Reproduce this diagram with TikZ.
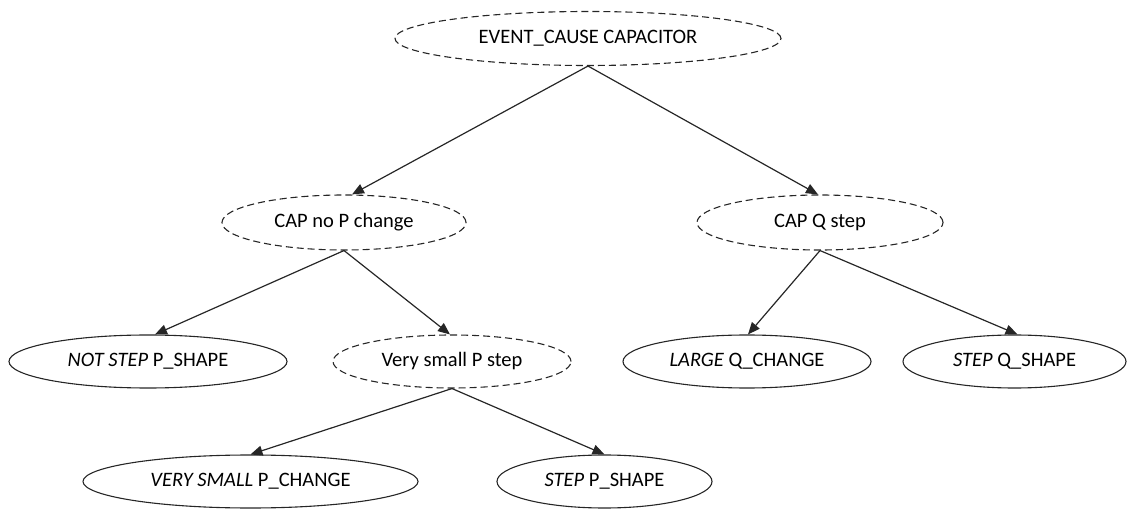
\documentclass[tikz,border=0pt]{standalone}
\usepackage{fontspec}
\setmainfont{Carlito}
\usetikzlibrary{shapes.geometric,arrows.meta}
\begin{document}
\begin{tikzpicture}[x=1pt,y=-1pt,
  box/.style={ellipse,draw=black!85,line width=1.1pt,inner sep=0pt,font=\fontsize{20.5}{23}\selectfont,text=black},
  dbox/.style={box,dash pattern=on 7pt off 4pt},
  link/.style={line width=1.2pt,draw=black!85,-{Triangle[length=12pt,width=10pt]}}]
\useasboundingbox (0,0) rectangle (1127,510);
% top cause and its two branches
\node[dbox,minimum width=386pt,minimum height=54pt] (root) at (588,38.5) {EVENT\_CAUSE CAPACITOR};
\node[dbox,minimum width=244pt,minimum height=55pt] (cnp) at (344,222.5) {CAP no P change};
\node[dbox,minimum width=246pt,minimum height=55pt] (cqs) at (820,222.5) {CAP Q step};
% third level
\node[box,minimum width=278pt,minimum height=53pt] (nsp) at (148,361.5) {\textit{NOT STEP} P\_SHAPE};
\node[dbox,minimum width=238pt,minimum height=53pt] (vsp) at (452,361.5) {Very small P step};
\node[box,minimum width=248pt,minimum height=53pt] (lqc) at (747,361.5) {\textit{LARGE} Q\_CHANGE};
\node[box,minimum width=223pt,minimum height=53pt] (sqs) at (1014.5,361.5) {\textit{STEP} Q\_SHAPE};
% bottom level
\node[box,minimum width=335pt,minimum height=53pt] (vpc) at (250.5,481.5) {\textit{VERY SMALL} P\_CHANGE};
\node[box,minimum width=215pt,minimum height=53pt] (ssp) at (604.5,481.5) {\textit{STEP} P\_SHAPE};
% connectors
\draw[link] (root.south) -- ([xshift=8pt]cnp.north);
\draw[link] (root.south) -- ([xshift=-2pt]cqs.north);
\draw[link] (cnp.south) -- ([xshift=7pt]nsp.north);
\draw[link] (cnp.south) -- ([xshift=-2pt]vsp.north);
\draw[link] (cqs.south) -- ([xshift=1pt]lqc.north);
\draw[link] (cqs.south) -- ([xshift=3pt]sqs.north);
\draw[link] (vsp.south) -- (vpc.north);
\draw[link] (vsp.south) -- (ssp.north);
\end{tikzpicture}
\end{document}
